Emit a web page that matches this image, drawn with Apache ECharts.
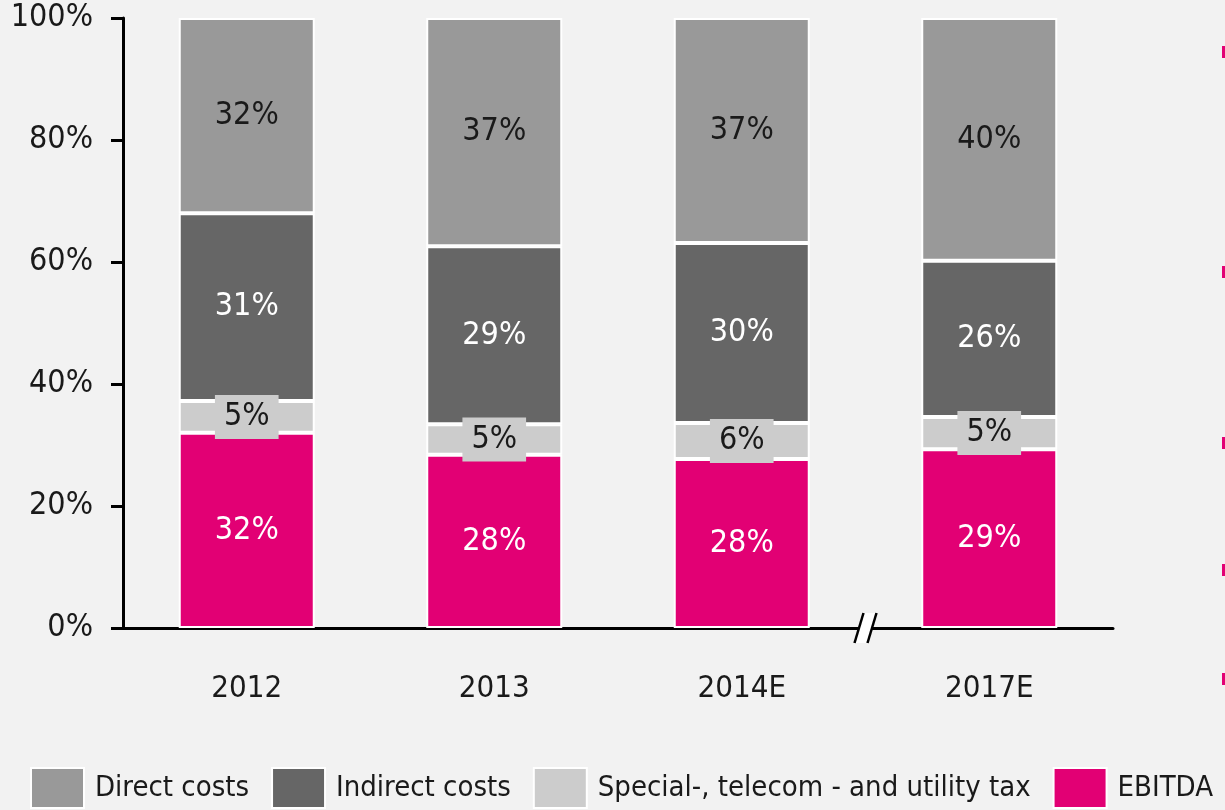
<!DOCTYPE html>
<html>
<head>
<meta charset="utf-8">
<script src="https://cdn.jsdelivr.net/npm/echarts@6/dist/echarts.min.js"></script>
<style>
html, body { margin: 0; padding: 0; background: #f2f2f2; }
#main { width: 1225px; height: 810px; }
</style>
</head>
<body>
<div id="main"></div>
<script>
// 年份
var categories = ['2012', '2013', '2014E', '2017E'];
// 各部分占比 (%)
var ebitda = [32, 28.4, 27.7, 29.3];
var specialTax = [5.2, 5.0, 5.9, 5.3];
var indirectCosts = [30.8, 29.2, 29.5, 25.6];
var directCosts = [32, 37.4, 36.9, 39.8];
var yTicks = [0, 20, 40, 60, 80, 100];

var FONT = "'Liberation Sans Narrow', 'DejaVu Sans Condensed', 'Liberation Sans', sans-serif";

var myChart = echarts.init(document.getElementById('main'));

var pct = function (p) {
	return Math.round(p.value) + '%';
};
var makeSeries = function (name, data, color, textColor, extraLabel) {
	var label = {
		show: true,
		position: 'inside',
		formatter: pct,
		color: textColor,
		fontFamily: FONT,
		fontSize: 32
	};
	for (var k in extraLabel) {
		label[k] = extraLabel[k];
	}
	return {
		name: name,
		type: 'bar',
		stack: 'total',
		barWidth: 136,
		data: data,
		itemStyle: {
			color: color,
			borderColor: '#ffffff',
			borderWidth: 2
		},
		label: label
	};
};

var option = {
	backgroundColor: '#f2f2f2',
	animation: false,
	textStyle: { fontFamily: FONT },
	grid: {
		left: 123,
		right: 112,
		top: 18,
		bottom: 182,
		containLabel: false
	},
	legend: {
		data: ['Direct costs', 'Indirect costs', 'Special-, telecom - and utility tax', 'EBITDA'],
		left: 30,
		top: 767,
		padding: 0,
		itemWidth: 53,
		itemHeight: 40,
		itemGap: 22,
		icon: 'rect',
		selectedMode: false,
		itemStyle: { borderColor: '#ffffff', borderWidth: 2 },
		textStyle: { fontFamily: FONT, fontSize: 29, color: '#1a1a1a', padding: [0, 0, 0, 6] }
	},
	xAxis: {
		type: 'category',
		data: categories,
		axisLine: { lineStyle: { color: '#000', width: 3 } },
		axisTick: { show: false },
		axisLabel: { margin: 45, fontFamily: FONT, fontSize: 31, color: '#1a1a1a' }
	},
	yAxis: {
		type: 'value',
		min: yTicks[0],
		max: yTicks[yTicks.length - 1],
		interval: 20,
		splitLine: { show: false },
		axisLine: { show: true, lineStyle: { color: '#000', width: 3 } },
		axisTick: { show: true, length: 12, lineStyle: { color: '#000', width: 3 } },
		axisLabel: { margin: 30, formatter: '{value}%', fontFamily: FONT, fontSize: 32, color: '#1a1a1a' }
	},
	series: [
		makeSeries('EBITDA', ebitda, '#e20074', '#ffffff'),
		makeSeries('Special-, telecom - and utility tax', specialTax, '#cccccc', '#1a1a1a', {
			backgroundColor: '#cccccc',
			padding: [7, 9, 5, 9]
		}),
		makeSeries('Indirect costs', indirectCosts, '#666666', '#ffffff'),
		makeSeries('Direct costs', directCosts, '#999999', '#1a1a1a')
	]
};

myChart.setOption(option);

// 轴断开标记 (2014E 与 2017E 之间) 和右侧粉色短线
var p2 = myChart.convertToPixel({ xAxisIndex: 0 }, categories[2]);
var p3 = myChart.convertToPixel({ xAxisIndex: 0 }, categories[3]);
var bx = (p2 + p3) / 2;
var by = myChart.convertToPixel({ yAxisIndex: 0 }, 0);
var dashY = [46, 266, 437, 564, 673];
var graphics = [
	{
		type: 'polygon',
		shape: { points: [[bx - 2, by - 15], [bx + 11, by - 15], [bx + 2, by + 15], [bx - 11, by + 15]] },
		style: { fill: '#ffffff' },
		z: 100
	},
	{
		type: 'line',
		shape: { x1: bx - 2, y1: by - 15, x2: bx - 11, y2: by + 15 },
		style: { stroke: '#000', lineWidth: 2.5 },
		z: 101
	},
	{
		type: 'line',
		shape: { x1: bx + 11, y1: by - 15, x2: bx + 2, y2: by + 15 },
		style: { stroke: '#000', lineWidth: 2.5 },
		z: 101
	}
];
for (var i in dashY) {
	graphics.push({
		type: 'rect',
		shape: { x: 1222, y: dashY[i], width: 3, height: 12 },
		style: { fill: '#e20074' }
	});
}
myChart.setOption({ graphic: graphics });

window.onresize = function () {
	myChart.resize();
};
</script>
</body>
</html>
